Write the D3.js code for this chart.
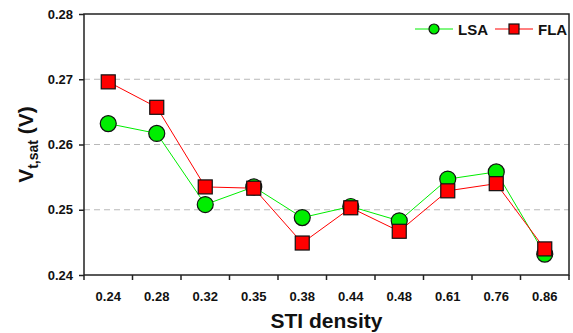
<!DOCTYPE html>
<html>
<head>
<meta charset="utf-8">
<script src="https://cdn.jsdelivr.net/npm/d3@7"></script>
<style>
  body { margin: 0; background: #fff; }
  text { font-family: "Liberation Sans", Arial, sans-serif; font-weight: bold; }
</style>
</head>
<body>
<div id="chart"></div>
<script>
// data
const categories = ["0.24", "0.28", "0.32", "0.35", "0.38", "0.44", "0.48", "0.61", "0.76", "0.86"];
const lsaValues = [0.2632, 0.2617, 0.2508, 0.2535, 0.2488, 0.2505, 0.2483, 0.2547, 0.2558, 0.2432];
const flaValues = [0.2696, 0.2657, 0.2535, 0.2533, 0.2449, 0.2503, 0.2467, 0.2529, 0.2540, 0.2440];
const yTicks = [0.24, 0.25, 0.26, 0.27, 0.28];
const gridTicks = [0.25, 0.26, 0.27];

const width = 573, height = 333;
const margin = {top: 14, right: 4, bottom: 58, left: 84};
const plotW = width - margin.left - margin.right;
const plotH = height - margin.top - margin.bottom;

const svg = d3.select("#chart").append("svg")
    .attr("width", width).attr("height", height);

const g = svg.append("g").attr("transform", `translate(${margin.left},${margin.top})`);

const x = d3.scaleBand().domain(categories).range([0, plotW]);
const y = d3.scaleLinear().domain([0.24, 0.28]).range([plotH, 0]);

// dashed grid lines
g.selectAll(".grid").data(gridTicks).enter()
    .append("line").attr("class", "grid")
    .attr("x1", 0).attr("x2", plotW)
    .attr("y1", d => y(d)).attr("y2", d => y(d))
    .attr("stroke", "#b8b8b8").attr("stroke-width", 1)
    .attr("stroke-dasharray", "6,4");

// frame
g.append("rect").attr("width", plotW).attr("height", plotH)
    .attr("fill", "none").attr("stroke", "#222").attr("stroke-width", 1.5);

// y axis
const yAxis = g.append("g")
    .call(d3.axisLeft(y).tickValues(yTicks).tickFormat(d3.format(".2f")).tickSize(5).tickPadding(6));
yAxis.select(".domain").remove();
yAxis.selectAll("line").attr("stroke", "#222").attr("stroke-width", 1.5);
yAxis.selectAll("text").style("font-size", "13px").attr("fill", "#111");

// x axis: ticks on the band boundaries, labels centred in the bands
const xBounds = categories.map(c => x(c)).concat([plotW]);
g.selectAll(".xtick").data(xBounds).enter()
    .append("line").attr("class", "xtick")
    .attr("x1", d => d).attr("x2", d => d)
    .attr("y1", plotH).attr("y2", plotH + 5)
    .attr("stroke", "#222").attr("stroke-width", 1.5);
g.selectAll(".xlabel").data(categories).enter()
    .append("text").attr("class", "xlabel")
    .attr("x", d => x(d) + x.bandwidth() / 2)
    .attr("y", plotH + 26)
    .attr("text-anchor", "middle")
    .style("font-size", "13px").attr("fill", "#111")
    .text(d => d);

// axis titles
svg.append("text")
    .attr("x", margin.left + plotW / 2).attr("y", height - 5)
    .attr("text-anchor", "middle")
    .style("font-size", "21px").attr("fill", "#111")
    .text("STI density");

const yTitle = svg.append("text")
    .attr("transform", `translate(33,${margin.top + plotH / 2}) rotate(-90)`)
    .attr("text-anchor", "middle")
    .style("font-size", "21px").attr("fill", "#111");
yTitle.append("tspan").text("V");
yTitle.append("tspan").attr("dy", 5).style("font-size", "14px").text("t,sat");
yTitle.append("tspan").attr("dy", -5).text(" (V)");

const cx = (d, i) => x(categories[i]) + x.bandwidth() / 2;
const line = d3.line().x((d, i) => cx(d, i)).y(d => y(d));

// lines
g.append("path").datum(lsaValues).attr("d", line)
    .attr("fill", "none").attr("stroke", "#00ee00").attr("stroke-width", 1);
g.append("path").datum(flaValues).attr("d", line)
    .attr("fill", "none").attr("stroke", "#ff0000").attr("stroke-width", 1);

// markers: circles first, squares drawn on top
g.selectAll(".lsa").data(lsaValues).enter()
    .append("circle").attr("class", "lsa")
    .attr("cx", cx).attr("cy", d => y(d)).attr("r", 8)
    .attr("fill", "#00ee00").attr("stroke", "#111").attr("stroke-width", 1.2);
const sq = 14;
g.selectAll(".fla").data(flaValues).enter()
    .append("rect").attr("class", "fla")
    .attr("x", (d, i) => cx(d, i) - sq / 2).attr("y", d => y(d) - sq / 2)
    .attr("width", sq).attr("height", sq)
    .attr("fill", "#ff0000").attr("stroke", "#111").attr("stroke-width", 1.2);

// legend
const legend = svg.append("g").attr("transform", "translate(415,29)");
legend.append("line").attr("x1", 0).attr("x2", 38).attr("y1", 0).attr("y2", 0)
    .attr("stroke", "#00ee00").attr("stroke-width", 1);
legend.append("circle").attr("cx", 19).attr("cy", 0).attr("r", 5)
    .attr("fill", "#00ee00").attr("stroke", "#111").attr("stroke-width", 1.2);
legend.append("text").attr("x", 43).attr("y", 5.5)
    .style("font-size", "15px").attr("fill", "#111").text("LSA");
legend.append("line").attr("x1", 80).attr("x2", 118).attr("y1", 0).attr("y2", 0)
    .attr("stroke", "#ff0000").attr("stroke-width", 1);
legend.append("rect").attr("x", 94).attr("y", -5).attr("width", 10).attr("height", 10)
    .attr("fill", "#ff0000").attr("stroke", "#111").attr("stroke-width", 1.2);
legend.append("text").attr("x", 123).attr("y", 5.5)
    .style("font-size", "15px").attr("fill", "#111").text("FLA");
</script>
</body>
</html>
